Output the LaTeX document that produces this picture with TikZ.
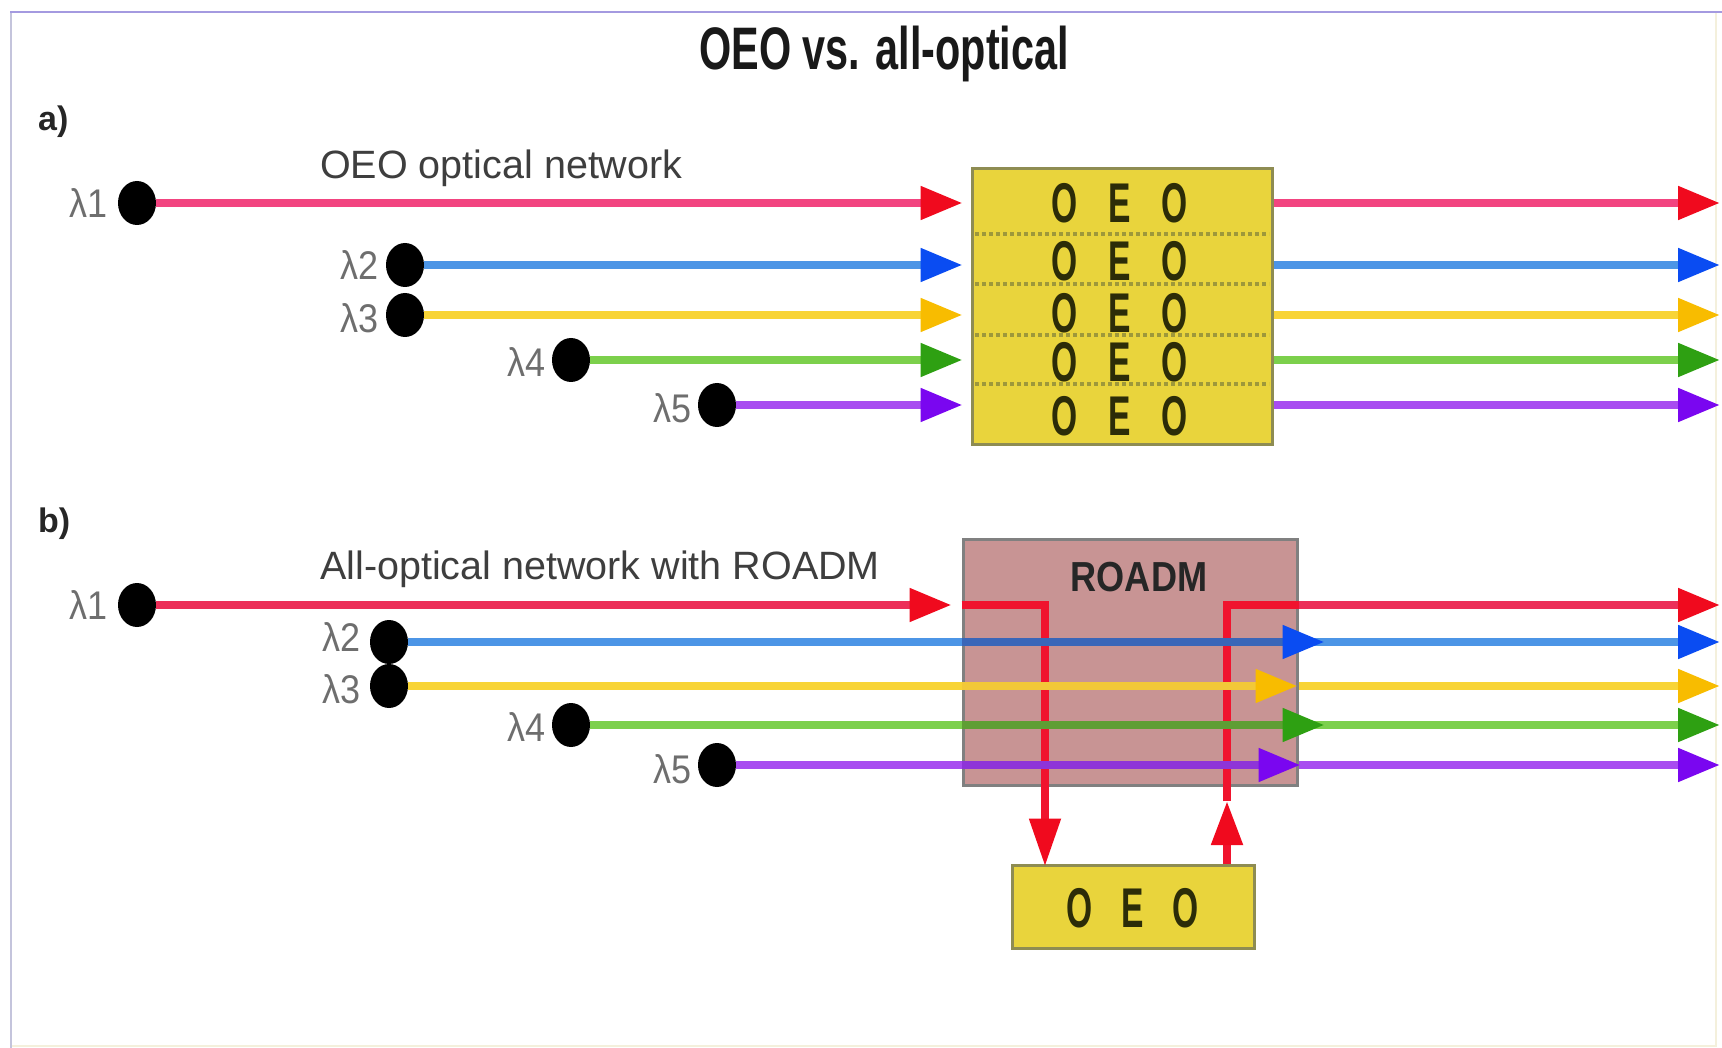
\documentclass[tikz,border=0pt]{standalone}
\usepackage{fontspec}
\setmainfont{Liberation Sans}
\newfontfamily\headfont[FakeStretch=0.69]{Liberation Sans}
\newfontfamily\glyphfont[FakeStretch=0.6]{Liberation Sans}
\newfontfamily\boxfont[FakeStretch=0.86]{Liberation Sans}
\newfontfamily\lamfont[FakeStretch=0.9]{Liberation Sans}
\usetikzlibrary{arrows.meta,shapes.geometric}

% fibre and tip colours
\definecolor{pinkln}{HTML}{F24480}
\definecolor{redtip}{HTML}{F00A1E}
\definecolor{blueln}{HTML}{4C95E6}
\definecolor{bluetip}{HTML}{0A4CF2}
\definecolor{yelln}{HTML}{F8D436}
\definecolor{yeltip}{HTML}{F8BC00}
\definecolor{grnln}{HTML}{7CD04C}
\definecolor{grntip}{HTML}{2EA012}
\definecolor{purln}{HTML}{A84CF0}
\definecolor{purtip}{HTML}{7A06F0}
\definecolor{redln}{HTML}{EC2E58}
\definecolor{redin}{HTML}{F0142E}
\definecolor{bluein}{HTML}{3A66B8}
\definecolor{yelin}{HTML}{F2C838}
\definecolor{grnin}{HTML}{5E9E34}
\definecolor{purin}{HTML}{8E34D8}
% boxes and text
\definecolor{oeofill}{HTML}{E9D43C}
\definecolor{oeoedge}{HTML}{8E8C52}
\definecolor{roadmfill}{HTML}{C89494}
\definecolor{roadmedge}{HTML}{808080}
\definecolor{sepdash}{HTML}{9E983A}
\definecolor{glyphcol}{HTML}{2C2C08}
\definecolor{subgray}{HTML}{3E3E3E}
\definecolor{lamgray}{HTML}{6E6E6E}
\definecolor{frametop}{HTML}{A49AE0}
\definecolor{frameleft}{HTML}{C4C4DC}
\definecolor{framefaint}{HTML}{F4F0DC}

\tikzset{
  fib/.style={line width=8pt},
  tipc/.style={-{Triangle[length=42pt,width=32pt,color=#1]}},
  dot/.style={ellipse, fill=black, minimum width=38pt, minimum height=44pt, inner sep=0pt},
  lam/.style={font=\lamfont\fontsize{40}{40}\selectfont, text=lamgray, inner sep=0pt, anchor=east},
  oeobox/.style={draw=oeoedge, fill=oeofill, line width=3pt, inner sep=0pt},
  roadmbox/.style={draw=roadmedge, fill=roadmfill, line width=3pt, inner sep=0pt},
  glyph/.style={font=\glyphfont\bfseries\fontsize{56}{56}\selectfont, text=glyphcol, inner sep=0pt},
  sep/.style={line width=3.5pt, sepdash, dash pattern=on 4pt off 3pt},
  part/.style={font=\bfseries\fontsize{34}{34}\selectfont, text=black!85, inner sep=0pt, anchor=base west},
  sub/.style={font=\fontsize{39.5}{40}\selectfont, text=subgray, inner sep=0pt, anchor=base west},
}

\begin{document}
\begin{tikzpicture}[x=1pt,y=-1pt]
\useasboundingbox (0,0) rectangle (1722,1048);
\fill[white] (0,0) rectangle (1722,1048);

% frame
\draw[line width=1.5pt, framefaint] (1716,12) -- (1716,1046) -- (11,1046);
\draw[line width=1.5pt, frameleft] (11,12) -- (11,1048);
\draw[line width=2pt, frametop] (10,12) -- (1722,12);

% title and headings
\node[anchor=base, font=\headfont\bfseries\fontsize{60}{60}\selectfont, text=black!90, inner sep=0pt] (title) at (884,70) {OEO vs. all-optical};
\node[part] (parta) at (38,131) {a)};
\node[part] (partb) at (38,532) {b)};
\node[sub] (suba) at (320,179) {OEO optical network};
\node[sub] (subb) at (320,579) {All-optical network with ROADM};

\coordinate (rend) at (1720,0);

% ---------- a) OEO optical network ----------
\node[oeobox, minimum width=300pt, minimum height=276pt] (oeo) at (1122,307) {};
\foreach \y in {234,284,335,384} \draw[sep] (975,\y) -- (1269,\y);
\foreach \r/\y in {1/203,2/261,3/313,4/362,5/416} {
  \node[glyph] (oa\r) at (1065,\y) {O};
  \node[glyph] (ob\r) at (1120,\y) {E};
  \node[glyph] (oc\r) at (1175,\y) {O};
}

\node[dot] (a1) at (137,203) {};
\node[dot] (a2) at (405,265) {};
\node[dot] (a3) at (405,315) {};
\node[dot] (a4) at (571,360) {};
\node[dot] (a5) at (717,405) {};

\node[lam] (la1) at ([xshift=-10pt]a1.west) {λ1};
\node[lam] (la2) at ([xshift=-7pt]a2.west) {λ2};
\node[lam] (la3) at ([xshift=-7pt,yshift=-3pt]a3.west) {λ3};
\node[lam] (la4) at ([xshift=-6pt,yshift=-2pt]a4.west) {λ4};
\node[lam] (la5) at ([xshift=-6pt,yshift=-3pt]a5.west) {λ5};

\draw[fib, pinkln, tipc=redtip] (a1.east) -- ([xshift=-8pt]a1 -| oeo.west);
\draw[fib, blueln, tipc=bluetip] (a2.east) -- ([xshift=-8pt]a2 -| oeo.west);
\draw[fib, yelln, tipc=yeltip] (a3.east) -- ([xshift=-8pt]a3 -| oeo.west);
\draw[fib, grnln, tipc=grntip] (a4.east) -- ([xshift=-8pt]a4 -| oeo.west);
\draw[fib, purln, tipc=purtip] (a5.east) -- ([xshift=-8pt]a5 -| oeo.west);

\draw[fib, pinkln, tipc=redtip] (a1 -| oeo.east) -- (a1 -| rend);
\draw[fib, blueln, tipc=bluetip] (a2 -| oeo.east) -- (a2 -| rend);
\draw[fib, yelln, tipc=yeltip] (a3 -| oeo.east) -- (a3 -| rend);
\draw[fib, grnln, tipc=grntip] (a4 -| oeo.east) -- (a4 -| rend);
\draw[fib, purln, tipc=purtip] (a5 -| oeo.east) -- (a5 -| rend);

% ---------- b) all-optical network with ROADM ----------
\node[roadmbox, minimum width=334pt, minimum height=246pt] (roadm) at (1130,662) {};
\node[oeobox, minimum width=242pt, minimum height=83pt] (oeob) at (1133,906.5) {};
\node[glyph] (sa) at (1080,908) {O};
\node[glyph] (sb) at (1133,908) {E};
\node[glyph] (sc) at (1186,908) {O};
\node[font=\boxfont\bfseries\fontsize{42}{42}\selectfont, text=black!85, inner sep=0pt] (rlabel) at (1139,577) {ROADM};

\node[dot] (b1) at (137,605) {};
\node[dot] (b2) at (389,642) {};
\node[dot] (b3) at (389,686) {};
\node[dot] (b4) at (571,725) {};
\node[dot] (b5) at (717,765) {};

\node[lam] (lb1) at ([xshift=-10pt]b1.west) {λ1};
\node[lam] (lb2) at ([xshift=-9pt,yshift=5pt]b2.west) {λ2};
\node[lam] (lb3) at ([xshift=-9pt,yshift=-3pt]b3.west) {λ3};
\node[lam] (lb4) at ([xshift=-6pt,yshift=-2pt]b4.west) {λ4};
\node[lam] (lb5) at ([xshift=-6pt,yshift=-4pt]b5.west) {λ5};

\coordinate (dropx) at (1045,0);
\coordinate (risex) at (1227,0);
\coordinate (risetip) at (1227,801);

% lambda 1 dropped to the OEO regenerator and added back
\draw[fib, redln, tipc=redtip] (b1.east) -- ([xshift=-10pt]b1 -| roadm.west);
\draw[fib, redin, -{Triangle[length=48pt,width=30pt,color=redtip]}] (b1 -| roadm.west) -- (b1 -| dropx) -- ([yshift=-3pt]dropx |- oeob.north);
\draw[fib, redin, -{Triangle[length=44pt,width=30pt,color=redtip]}] (risex |- oeob.north) -- (risetip);
\draw[fib, redin] (risetip) -- (risex |- b1) -- (b1 -| roadm.east);
\draw[fib, redln, tipc=redtip] (b1 -| roadm.east) -- (b1 -| rend);

% express wavelengths through the ROADM
\draw[fib, blueln] (b2.east) -- (b2 -| roadm.west);
\draw[fib, yelln] (b3.east) -- (b3 -| roadm.west);
\draw[fib, grnln] (b4.east) -- (b4 -| roadm.west);
\draw[fib, purln] (b5.east) -- (b5 -| roadm.west);

\draw[fib, blueln, tipc=bluetip] (b2 -| roadm.east) -- (b2 -| rend);
\draw[fib, yelln, tipc=yeltip] (b3 -| roadm.east) -- (b3 -| rend);
\draw[fib, grnln, tipc=grntip] (b4 -| roadm.east) -- (b4 -| rend);
\draw[fib, purln, tipc=purtip] (b5 -| roadm.east) -- (b5 -| rend);

\draw[fib, bluein, tipc=bluetip] (b2 -| roadm.west) -- ([xshift=26pt]b2 -| roadm.east);
\draw[fib, yelin, tipc=yeltip] (b3 -| roadm.west) -- ([xshift=-1pt]b3 -| roadm.east);
\draw[fib, grnin, tipc=grntip] (b4 -| roadm.west) -- ([xshift=26pt]b4 -| roadm.east);
\draw[fib, purin, tipc=purtip] (b5 -| roadm.west) -- ([xshift=2pt]b5 -| roadm.east);
\end{tikzpicture}
\end{document}
